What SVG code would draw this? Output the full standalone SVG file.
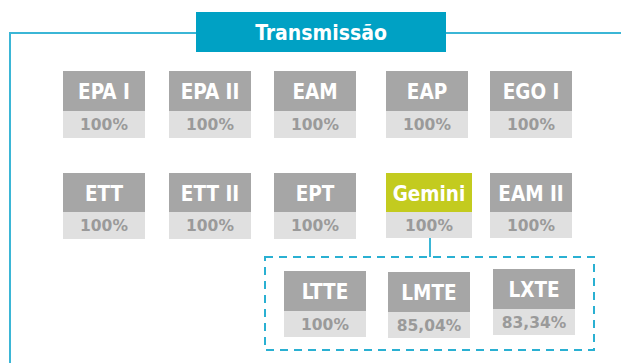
<svg xmlns="http://www.w3.org/2000/svg" width="621" height="363" viewBox="0 0 621 363">
<style>
.frame{fill:none;stroke:#3bb6d6;stroke-width:2}
.dash{fill:none;stroke:#2ab0d2;stroke-width:2;stroke-dasharray:8 6}
.top{fill:#a6a6a6}
.gem{fill:#c3cb1f}
.bot{fill:#e0e0e0}
.lbl{font-family:"DejaVu Sans Condensed","DejaVu Sans",sans-serif;font-weight:bold;font-size:20.5px;fill:#fff;text-anchor:middle}
.pct{font-family:"DejaVu Sans","Liberation Sans",sans-serif;font-weight:bold;font-size:15.5px;fill:#9a9a9a;text-anchor:middle}
.ttl{font-family:"DejaVu Sans Condensed","DejaVu Sans",sans-serif;font-weight:bold;font-size:21px;fill:#fff;text-anchor:middle}
</style>
<g id="connectors">
<path class="frame" d="M621 33 H10 V363"/>
<path class="frame" d="M430 238 V257"/>
<rect class="dash" x="265" y="257" width="329" height="93"/>
</g>
<g id="title">
<rect x="196" y="12" width="250" height="40" fill="#00a1c4"/>
<text class="ttl" x="321" y="39.5">Transmissão</text>
</g>
<g id="epa1"><rect class="top" x="63" y="71" width="82" height="40"/><rect class="bot" x="63" y="111" width="82" height="27"/><text class="lbl" x="104" y="99">EPA I</text><text class="pct" x="104" y="130">100%</text></g>
<g id="epa2"><rect class="top" x="169" y="71" width="82" height="40"/><rect class="bot" x="169" y="111" width="82" height="27"/><text class="lbl" x="210" y="99">EPA II</text><text class="pct" x="210" y="130">100%</text></g>
<g id="eam"><rect class="top" x="274" y="71" width="82" height="40"/><rect class="bot" x="274" y="111" width="82" height="27"/><text class="lbl" x="315" y="99">EAM</text><text class="pct" x="315" y="130">100%</text></g>
<g id="eap"><rect class="top" x="386" y="71" width="82" height="40"/><rect class="bot" x="386" y="111" width="82" height="27"/><text class="lbl" x="427" y="99">EAP</text><text class="pct" x="427" y="130">100%</text></g>
<g id="ego1"><rect class="top" x="490" y="71" width="82" height="40"/><rect class="bot" x="490" y="111" width="82" height="27"/><text class="lbl" x="531" y="99">EGO I</text><text class="pct" x="531" y="130">100%</text></g>
<g id="ett"><rect class="top" x="63" y="173" width="82" height="39"/><rect class="bot" x="63" y="212" width="82" height="27"/><text class="lbl" x="104" y="200.5">ETT</text><text class="pct" x="104" y="231">100%</text></g>
<g id="ett2"><rect class="top" x="169" y="173" width="82" height="39"/><rect class="bot" x="169" y="212" width="82" height="27"/><text class="lbl" x="210" y="200.5">ETT II</text><text class="pct" x="210" y="231">100%</text></g>
<g id="ept"><rect class="top" x="274" y="173" width="82" height="39"/><rect class="bot" x="274" y="212" width="82" height="27"/><text class="lbl" x="315" y="200.5">EPT</text><text class="pct" x="315" y="231">100%</text></g>
<g id="gemini"><rect class="gem" x="386" y="173" width="86" height="39"/><rect class="bot" x="386" y="212" width="86" height="26"/><text class="lbl" x="429" y="200.5">Gemini</text><text class="pct" x="429" y="231">100%</text></g>
<g id="eam2"><rect class="top" x="490" y="173" width="82" height="39"/><rect class="bot" x="490" y="212" width="82" height="26"/><text class="lbl" x="531" y="200.5">EAM II</text><text class="pct" x="531" y="230.5">100%</text></g>
<g id="ltte"><rect class="top" x="284" y="271" width="82" height="40"/><rect class="bot" x="284" y="311" width="82" height="26"/><text class="lbl" x="325" y="299">LTTE</text><text class="pct" x="325" y="329.5">100%</text></g>
<g id="lmte"><rect class="top" x="388" y="272" width="82" height="40"/><rect class="bot" x="388" y="312" width="82" height="26"/><text class="lbl" x="429" y="300">LMTE</text><text class="pct" x="429" y="330.5">85,04%</text></g>
<g id="lxte"><rect class="top" x="493" y="269" width="82" height="40"/><rect class="bot" x="493" y="309" width="82" height="26"/><text class="lbl" x="534" y="297">LXTE</text><text class="pct" x="534" y="327.5">83,34%</text></g>
</svg>
